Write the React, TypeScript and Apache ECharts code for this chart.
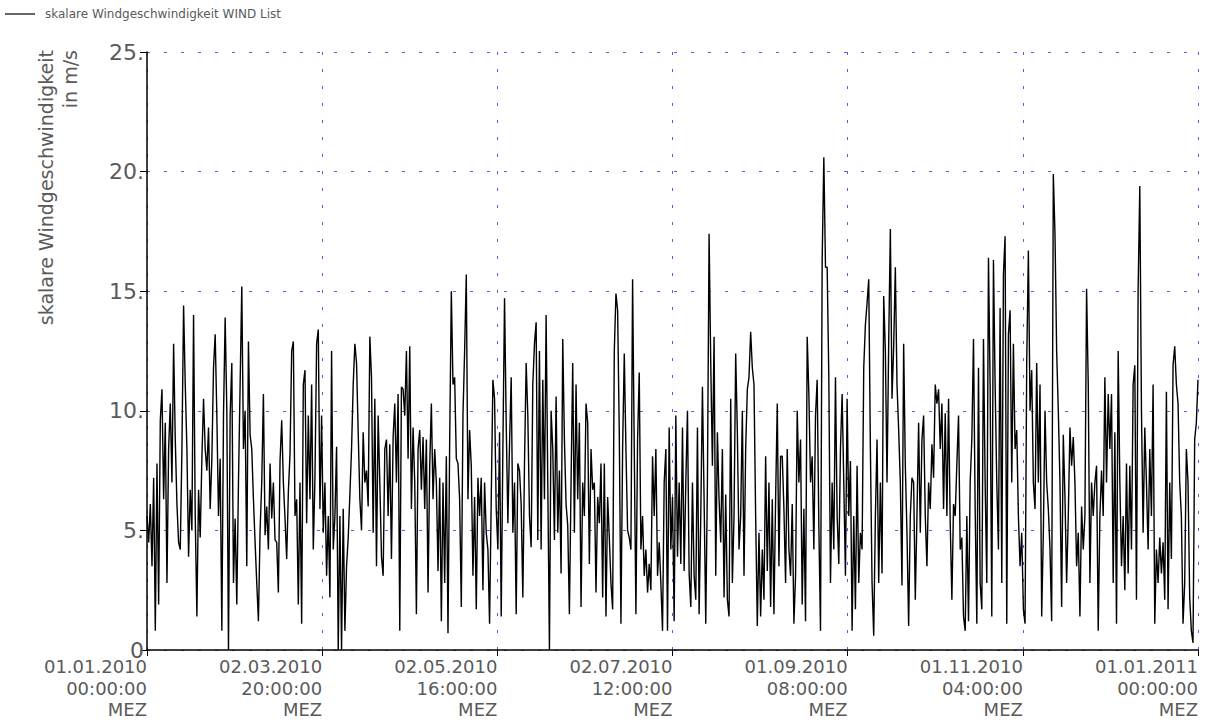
import React, { useEffect, useRef } from "react";
import * as echarts from "echarts";

const seriesName = "skalare Windgeschwindigkeit WIND List";
const yAxisTitle = "skalare Windgeschwindigkeit\nin m/s";
const yearStart = Date.UTC(2010, 0, 1);
const yearHours = 8760;
const tickHours = 1460;

// wind speed in m/s, regular time grid over the year
const segJanFeb = [5.6,4.5,6.1,3.5,7.2,0.8,7.8,1.9,9.6,10.9,6.3,9.5,2.8,8.4,10.3,7.0,12.8,8.8,6.1,4.5,4.2,8.4,14.4,11.1,8.4,3.9,6.7,5.0,14.0,5.6,1.4,6.7,4.7,8.0,10.5,8.4,7.5,9.3,5.9,8.0,11.8,13.2,9.8,5.6,8.0,0.8,9.8,13.9,10.0,0,9.8,12.0,2.8,5.5,1.9,7.0,11.1,15.2,8.4,10.0,3.5,12.9,9.0,8.4,6.3,4.5,2.8,1.2,5.0,7.0,10.7,4.8,6.0,4.2,7.8,5.5,7.0,4.6];
const segFebApr = [4.5,2.4,7.9,9.6,7.0,5.5,3.8,6.6,8.2,12.5,12.9,5.6,6.3,1.9,7.0,1.1,11.1,11.7,5.3,9.8,6.3,11.1,4.2,7.2,12.8,13.4,5.9,9.8,4.9,7.0,3.1,5.6,2.2,12.5,4.2,5.6,8.5,0,5.6,0,5.9,0.8,3.5,4.7,6.5,8.4,11.1,12.8,12.0,9.1,6.3,5.0,9.1,7.0,7.5,6.0,13.1,11.4,4.9,10.5,3.5,9.8,7.0,3.9,3.1,8.4,8.8,5.6,8.6,3.8,8.9,10.3,7.0,10.7,0.8,11.0,10.9,9.8];
const segAprJun = [12.5,8.0,12.7,5.9,9.3,7.0,1.5,8.4,9.2,6.7,8.9,5.9,8.8,2.4,7.7,10.3,6.3,8.4,7.0,3.3,7.2,1.2,7.0,2.8,8.1,0.7,8.6,15.0,11.1,11.4,8.0,7.8,6.3,1.8,9.8,12.5,15.7,6.3,9.2,7.7,3.1,6.4,1.7,7.2,5.6,7.2,2.5,7.0,4.9,4.2,1.1,6.3,11.3,10.5,5.9,4.2,9.1,1.4,8.4,14.7,9.5,5.3,8.6,11.4,4.9,7.0,1.5,7.8,7.5,6.1,2.2,7.8,12.0,9.8,5.6,4.3,11.1,12.8];
const segJunJul = [13.7,4.6,12.5,4.2,11.3,6.3,14.0,7.0,0,10.0,8.4,4.6,10.6,4.9,7.5,3.2,13.0,8.8,6.1,5.2,1.5,7.0,12.0,4.9,11.1,6.3,9.5,1.8,7.0,5.6,10.3,9.5,3.6,8.4,6.7,7.0,2.4,6.4,5.3,7.8,2.2,7.8,1.4,6.4,4.7,2.8,1.7,12.5,14.9,14.2,9.1,1.1,8.4,12.4,8.4,5.0,4.7,4.2,15.5,8.4,1.5,8.8,11.6,4.2,5.6,3.1,4.2,2.4,3.6,2.5,8.1,5.6,8.4,3.1,4.5,2.8,0.8,7.0];
const segJulSep = [8.4,0.8,9.3,4.2,6.4,1.2,9.8,3.9,7.0,3.6,9.3,3.3,7.0,10.0,3.2,1.8,7.0,3.1,2.1,9.3,1.5,5.6,11.0,6.3,1.1,7.0,17.4,12.0,7.7,13.1,3.1,9.1,6.3,4.5,8.4,2.2,6.5,2.1,1.4,10.5,2.8,5.6,12.4,9.1,4.2,5.6,10.0,3.1,8.4,10.9,11.4,13.3,11.8,11.1,5.6,1.0,4.9,1.4,4.2,2.1,8.1,3.3,7.0,1.8,6.3,1.5,6.3,10.3,3.5,8.1,8.1,5.9,2.8,8.4,4.2,3.1,6.1,1.1];
const segSepOct = [3.1,10.0,7.0,8.8,1.9,5.9,1.2,13.1,10.7,7.0,8.1,4.2,9.8,11.3,5.2,0.8,16.3,20.6,16.0,16.0,11.4,2.8,7.0,4.2,11.4,5.6,3.6,8.4,10.7,7.0,3.1,10.5,5.6,7.9,0.8,5.6,1.7,7.7,2.8,4.9,4.2,11.8,13.6,14.5,15.5,8.4,2.8,0.6,5.6,8.8,2.8,7.0,3.2,14.8,12.5,7.0,12.8,17.6,10.5,12.7,16.0,11.1,9.2,7.0,2.7,12.8,7.7,4.9,1.0,5.6,7.2,7.0,2.1,5.6,9.5,4.9,8.8,9.8];
const segOctNov = [5.6,3.5,7.0,5.9,8.6,7.2,11.1,10.3,10.9,8.4,10.3,5.9,9.9,5.6,10.5,5.3,2.1,6.1,5.6,7.8,9.8,4.2,4.7,1.4,0.8,5.6,1.2,7.0,8.8,13.0,5.9,1.1,11.8,2.8,1.7,13.0,7.0,2.8,16.4,11.1,1.4,16.3,11.1,7.0,4.2,14.3,2.8,15.7,17.3,1.1,13.2,14.2,7.0,12.8,8.4,9.2,5.6,3.5,4.9,1.7,1.1,12.0,16.7,10.0,11.7,7.0,5.9,12.0,7.0,11.1,1.4,4.9,10.0,7.0,5.9,4.2,1.2,19.9];
const segNovDec = [17.4,12.5,10.0,7.0,1.8,9.0,6.4,2.8,5.6,9.3,7.7,8.9,7.0,3.5,4.9,1.4,6.0,4.2,5.6,15.1,11.1,2.8,7.0,5.6,7.0,7.7,0.8,5.6,7.5,5.6,11.4,7.0,10.7,8.4,10.7,2.8,9.1,1.1,12.5,7.0,3.5,5.6,2.5,7.8,3.2,7.7,4.2,11.1,11.9,2.1,15.1,19.4,10.0,4.9,9.3,7.0,4.2,8.4,5.6,11.1,1.1,4.2,2.8,4.7,3.2,4.5,2.1,10.8,1.7,7.0,3.8,11.9,12.7,11.1,10.3,7.0,5.6,1.1,2.8,8.4,7.0,2.2,0.8,0.3,8.8,9.5,11.3];

const windSpeed = [
  ...segJanFeb, ...segFebApr, ...segAprJun, ...segJunJul,
  ...segJulSep, ...segSepOct, ...segOctNov, ...segNovDec,
];

const FONT = "'DejaVu Sans', sans-serif";
const TEXT = "#5a5a5a";
const GRID = "#5c5ce0";

function pad(n: number) {
  return String(n).padStart(2, "0");
}

function formatHour(h: number) {
  const d = new Date(yearStart + Math.round(h) * 3600000);
  return `${pad(d.getUTCDate())}.${pad(d.getUTCMonth() + 1)}.${d.getUTCFullYear()}\n${pad(
    d.getUTCHours()
  )}:${pad(d.getUTCMinutes())}:00\nMEZ`;
}

export default function App() {
  const ref = useRef<HTMLDivElement>(null);

  useEffect(() => {
    if (!ref.current) return;
    const chart = echarts.init(ref.current, undefined, { renderer: "svg" });
    const n = windSpeed.length;
    const data = windSpeed.map((v, i) => [(i * yearHours) / (n - 1), v]);

    chart.setOption({
      animation: false,
      backgroundColor: "#fff",
      legend: {
        left: 5,
        top: 8,
        padding: 0,
        icon: "rect",
        itemWidth: 30,
        itemHeight: 1.2,
        data: [seriesName],
        textStyle: {
          fontFamily: FONT,
          fontSize: 12,
          color: TEXT,
          padding: [0, 0, 0, 5],
        },
      },
      grid: { left: 147, right: 12, top: 52, bottom: 74, containLabel: false },
      xAxis: {
        type: "value",
        min: 0,
        max: yearHours,
        interval: tickHours,
        axisLine: { show: true, onZero: false, lineStyle: { color: "#000", width: 1.5 } },
        axisTick: { show: true, length: 6, lineStyle: { color: "#000", width: 1 } },
        axisLabel: {
          formatter: (v: number) => formatHour(v),
          align: "right",
          fontFamily: FONT,
          fontSize: 18,
          lineHeight: 21.5,
          color: TEXT,
          margin: 6,
          showMinLabel: true,
          showMaxLabel: true,
        },
        splitLine: { show: true, lineStyle: { color: GRID, type: [3, 14], width: 1 } },
      },
      yAxis: {
        type: "value",
        min: 0,
        max: 25,
        interval: 5,
        axisLine: { show: true, lineStyle: { color: "#000", width: 1.5 } },
        axisTick: { show: true, length: 7, lineStyle: { color: "#000", width: 1 } },
        axisLabel: {
          formatter: (v: number) => (v === 0 ? "0" : v + "."),
          fontFamily: FONT,
          fontSize: 22,
          lineHeight: 17,
          color: TEXT,
          margin: 3,
        },
        splitLine: { show: true, lineStyle: { color: GRID, type: [3, 14], width: 1 } },
      },
      graphic: [
        {
          type: "text",
          x: 34,
          y: 50,
          rotation: Math.PI / 2,
          style: {
            text: yAxisTitle,
            align: "right",
            verticalAlign: "top",
            fontFamily: FONT,
            fontSize: 19,
            lineHeight: 24,
            fill: TEXT,
          },
        },
      ],
      series: [
        {
          type: "line",
          name: seriesName,
          data,
          symbol: "none",
          showSymbol: false,
          clip: true,
          lineStyle: { color: "#000", width: 1.4 },
          itemStyle: { color: "#000" },
        },
      ],
    });

    return () => chart.dispose();
  }, []);

  return (
    <div
      ref={ref}
      style={{ position: "fixed", left: 0, top: 0, width: 1210, height: 724, background: "#fff" }}
    />
  );
}
